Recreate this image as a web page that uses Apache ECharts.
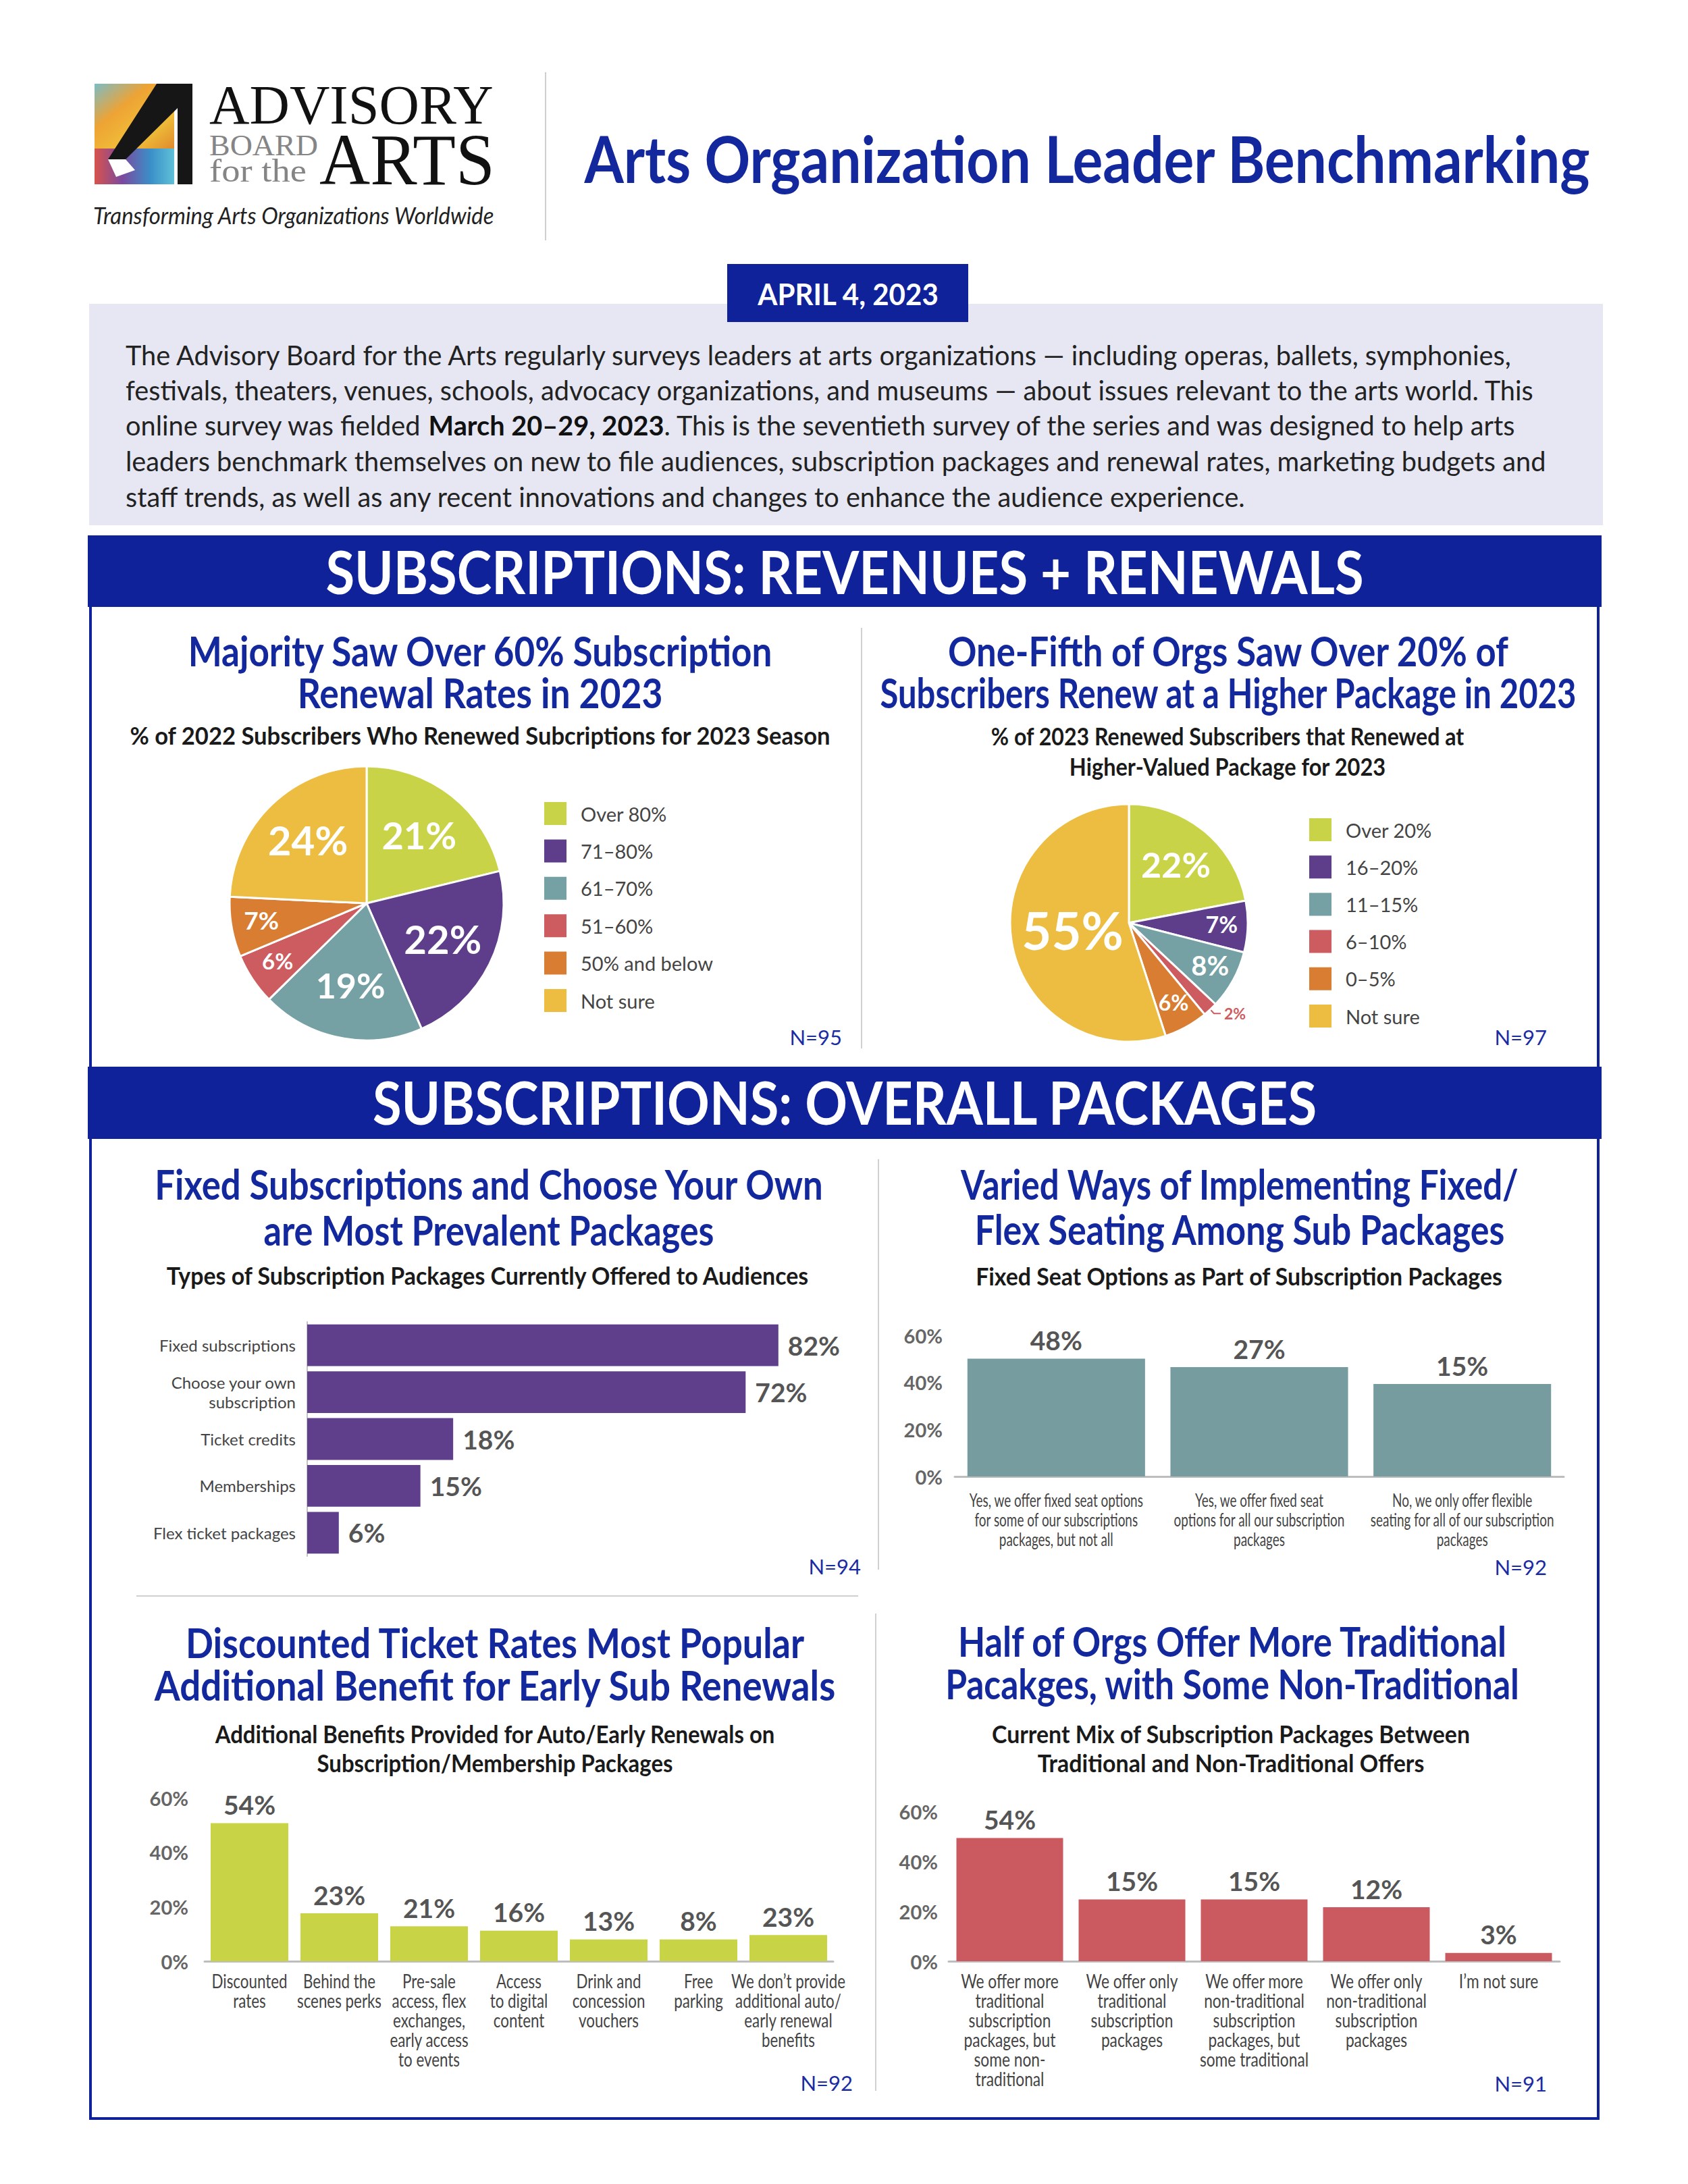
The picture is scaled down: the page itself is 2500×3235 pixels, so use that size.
<!DOCTYPE html>
<html><head><meta charset="utf-8">
<script src="https://cdn.jsdelivr.net/npm/echarts@6/dist/echarts.min.js"></script>
<style>html,body{margin:0;padding:0;background:#fff;}#c{width:2500px;height:3235px;}</style>
</head><body><div id="c"></div>
<script>
// ================= DATA =================
const pageTitle = 'Arts Organization Leader Benchmarking';
const reportDate = 'APRIL 4, 2023';
const logoWords = ['ADVISORY', 'BOARD', 'for the', 'ARTS'];
const logoTagline = 'Transforming Arts Organizations Worldwide';
const introLines = [
  'The Advisory Board for the Arts regularly surveys leaders at arts organizations \u2014 including operas, ballets, symphonies,',
  'festivals, theaters, venues, schools, advocacy organizations, and museums \u2014 about issues relevant to the arts world. This',
  'online survey was fielded {b|March 20\u201329, 2023}. This is the seventieth survey of the series and was designed to help arts',
  'leaders benchmark themselves on new to file audiences, subscription packages and renewal rates, marketing budgets and',
  'staff trends, as well as any recent innovations and changes to enhance the audience experience.'
];
const section1Title = 'SUBSCRIPTIONS: REVENUES + RENEWALS';
const section2Title = 'SUBSCRIPTIONS: OVERALL PACKAGES';

const renewalTitle = ['Majority Saw Over 60% Subscription', 'Renewal Rates in 2023'];
const renewalSubtitle = ['% of 2022 Subscribers Who Renewed Subcriptions for 2023 Season'];
const renewalCategories = ['Over 80%', '71\u201380%', '61\u201370%', '51\u201360%', '50% and below', 'Not sure'];
const renewalValues = [21, 22, 19, 6, 7, 24];
const renewalN = 'N=95';

const higherTitle = ['One-Fifth of Orgs Saw Over 20% of', 'Subscribers Renew at a Higher Package in 2023'];
const higherSubtitle = ['% of 2023 Renewed Subscribers that Renewed at', 'Higher-Valued Package for 2023'];
const higherCategories = ['Over 20%', '16\u201320%', '11\u201315%', '6\u201310%', '0\u20135%', 'Not sure'];
const higherValues = [22, 7, 8, 2, 6, 55];
const higherN = 'N=97';

const packageTitle = ['Fixed Subscriptions and Choose Your Own', 'are Most Prevalent Packages'];
const packageSubtitle = ['Types of Subscription Packages Currently Offered to Audiences'];
const packageCategories = ['Fixed subscriptions', 'Choose your own\nsubscription', 'Ticket credits', 'Memberships', 'Flex ticket packages'];
const packageLabels = [82, 72, 18, 15, 6];          // printed values
const packageBars = [82, 76.3, 25.4, 19.7, 5.5];     // bar lengths as drawn in the picture
const packageN = 'N=94';

const seatTitle = ['Varied Ways of Implementing Fixed/', 'Flex Seating Among Sub Packages'];
const seatSubtitle = ['Fixed Seat Options as Part of Subscription Packages'];
const seatCategories = [
  'Yes, we offer fixed seat options\nfor some of our subscriptions\npackages, but not all',
  'Yes, we offer fixed seat\noptions for all our subscription\npackages',
  'No, we only offer flexible\nseating for all of our subscription\npackages'
];
const seatLabels = [48, 27, 15];
const seatBars = [50.1, 46.5, 39.3];
const seatN = 'N=92';

const benefitTitle = ['Discounted Ticket Rates Most Popular', 'Additional Benefit for Early Sub Renewals'];
const benefitSubtitle = ['Additional Benefits Provided for Auto/Early Renewals on', 'Subscription/Membership Packages'];
const benefitCategories = [
  'Discounted\nrates', 'Behind the\nscenes perks', 'Pre-sale\naccess, flex\nexchanges,\nearly access\nto events',
  'Access\nto digital\ncontent', 'Drink and\nconcession\nvouchers', 'Free\nparking',
  'We don\u2019t provide\nadditional auto/\nearly renewal\nbenefits'
];
const benefitLabels = [54, 23, 21, 16, 13, 8, 23];
const benefitBars = [50.7, 17.6, 12.8, 11.2, 8.0, 8.0, 9.6];
const benefitN = 'N=92';

const mixTitle = ['Half of Orgs Offer More Traditional', 'Pacakges, with Some Non-Traditional'];
const mixSubtitle = ['Current Mix of Subscription Packages Between', 'Traditional and Non-Traditional Offers'];
const mixCategories = [
  'We offer more\ntraditional\nsubscription\npackages, but\nsome non-\ntraditional',
  'We offer only\ntraditional\nsubscription\npackages',
  'We offer more\nnon-traditional\nsubscription\npackages, but\nsome traditional',
  'We offer only\nnon-traditional\nsubscription\npackages',
  'I\u2019m not sure'
];
const mixLabels = [54, 15, 15, 12, 3];
const mixBars = [49.3, 24.7, 24.7, 21.6, 3.3];
const mixN = 'N=91';

const pctTicks = [0, 20, 40, 60];

// ================= STYLE =================
const FONT = 'Lato, "Noto Sans", sans-serif';
const SERIF = '"Liberation Serif", "DejaVu Serif", serif';
const NAVY = '#0f2299';
const TBLUE = '#14289e';
const pieColors = ['#c9d347', '#5e3e8b', '#75a1a5', '#cd5c60', '#d97d32', '#ecbd40'];
const renewalLabelSizes = [56, 58, 52, 33, 37, 60];
const higherLabelSizes = [52, 34, 40, 23, 32, 76];

const mctx = document.createElement('canvas').getContext('2d');
function mw(text, size, weight, family, italic) {
  mctx.font = (italic ? 'italic ' : '') + weight + ' ' + size + 'px ' + family;
  return mctx.measureText(text).width;
}
function txt(text, x, y, size, o) {
  o = o || {};
  const weight = o.weight || 'normal', family = o.family || FONT;
  let sx = o.sx || 1;
  if (o.w) sx = o.w / mw(text, size, weight, family, o.italic);
  const align = o.align || 'center';
  const st = {
    text: text, fontSize: size, fontWeight: weight, fontFamily: family,
    fontStyle: o.italic ? 'italic' : 'normal', fill: o.color || '#222',
    align: align, verticalAlign: o.va || 'middle', textAlign: align, textVerticalAlign: o.va || 'middle'
  };
  if (o.lineHeight) st.lineHeight = o.lineHeight;
  if (o.rich) st.rich = o.rich;
  return { type: 'text', x: x, y: y, scaleX: sx, z: 20, silent: true, style: st };
}
function rect(x, y, w, h, fill, z) {
  return { type: 'rect', shape: { x: x, y: y, width: w, height: h }, style: { fill: fill }, z: z || 2, silent: true };
}
function line(x1, y1, x2, y2, color, w) {
  return { type: 'line', shape: { x1: x1, y1: y1, x2: x2, y2: y2 }, style: { stroke: color, lineWidth: w }, z: 3, silent: true };
}

const G = [];
// ---- header / logo ----
G.push({ type: 'rect', shape: { x: 140, y: 124, width: 118, height: 96 }, z: 2, silent: true,
  style: { fill: new echarts.graphic.LinearGradient(0, 0, 1, 1, [
    { offset: 0, color: '#7cbcc6' }, { offset: 0.35, color: '#eea334' }, { offset: 0.7, color: '#f0c23a' }, { offset: 1, color: '#e08a2c' }]) } });
G.push({ type: 'rect', shape: { x: 140, y: 220, width: 118, height: 53 }, z: 2, silent: true,
  style: { fill: new echarts.graphic.LinearGradient(0, 0, 1, 0, [
    { offset: 0, color: '#d8524a' }, { offset: 0.35, color: '#7b4aa0' }, { offset: 0.7, color: '#3a8fc8' }, { offset: 1, color: '#5fc0d8' }]) } });
G.push({ type: 'polygon', shape: { points: [[232, 124], [285, 124], [285, 273], [263, 273], [263, 160], [186, 236], [160, 236]] }, style: { fill: '#161616' }, z: 3, silent: true });
G.push({ type: 'polygon', shape: { points: [[160, 236], [186, 236], [200, 252], [172, 262]] }, style: { fill: '#ffffff' }, z: 4, silent: true });
G.push(txt(logoWords[0], 310, 156, 82, { family: SERIF, align: 'left', w: 421, color: '#111' }));
G.push(txt(logoWords[1], 310, 215, 44, { family: SERIF, align: 'left', w: 161, color: '#858585' }));
G.push(txt(logoWords[2], 310, 253, 48, { family: SERIF, align: 'left', w: 144, color: '#858585' }));
G.push(txt(logoWords[3], 473, 236, 108, { family: SERIF, align: 'left', w: 260, color: '#111' }));
G.push(txt(logoTagline, 138, 319, 34, { italic: true, align: 'left', w: 595, color: '#222' }));
G.push(line(808, 107, 808, 356, '#cfcfcf', 2));
G.push(txt(pageTitle, 1610, 234, 95, { weight: 'bold', color: TBLUE, w: 1491 }));

// ---- date + intro ----
G.push(rect(132, 450, 2242, 328, '#e6e7f3', 1));
G.push(rect(1077, 391, 357, 86, NAVY, 4));
G.push(txt(reportDate, 1256, 435, 44, { weight: 'bold', color: '#ffffff', w: 269 }));
const introScale = 2058 / mw(introLines[0], 41, 'normal', FONT);
const introY = [525, 577, 629, 682, 735];
introLines.forEach((t, i) => {
  G.push(txt(t, 186, introY[i], 41, { align: 'left', sx: introScale, color: '#222',
    rich: { b: { fontWeight: 'bold', fontSize: 41, fontFamily: FONT, fill: '#111', color: '#111' } } }));
});

// ---- frame + banners ----
G.push({ type: 'rect', shape: { x: 134, y: 795, width: 2233, height: 2343 }, style: { fill: 'none', stroke: NAVY, lineWidth: 4 }, z: 1, silent: true });
G.push(rect(130, 793, 2242, 106, NAVY, 4));
G.push(txt(section1Title, 1251, 846, 88, { weight: 'bold', color: '#ffffff', w: 1537 }));
G.push(rect(130, 1580, 2242, 107, NAVY, 4));
G.push(txt(section2Title, 1251, 1632, 88, { weight: 'bold', color: '#ffffff', w: 1401 }));

// dividers
G.push(line(1276, 930, 1276, 1553, '#d0d0d0', 2));
G.push(line(1301, 1717, 1301, 2325, '#d0d0d0', 2));
G.push(line(1297, 2390, 1297, 3097, '#d0d0d0', 2));
G.push(line(202, 2364, 1271, 2364, '#d0d0d0', 2));

// ---- titles ----
function titleBlock(lines, ys, cx, ws, size, opts) {
  lines.forEach((t, i) => G.push(txt(t, cx, ys[i], size, Object.assign({ w: ws[i] }, opts))));
}
const H = { weight: 'bold', color: TBLUE };
const S = { weight: 'bold', color: '#1a1a1a' };
titleBlock(renewalTitle, [963, 1025], 711, [868, 541], 62, H);
titleBlock(renewalSubtitle, [1089], 711, [1039], 36, S);
titleBlock(higherTitle, [963, 1025], 1819, [833, 1033], 62, H);
titleBlock(higherSubtitle, [1090, 1135], 1818, [701, 469], 36, S);
titleBlock(packageTitle, [1753, 1821], 724, [993, 667], 62, H);
titleBlock(packageSubtitle, [1889], 722, [953], 36, S);
titleBlock(seatTitle, [1753, 1820], 1836, [827, 787], 62, H);
titleBlock(seatSubtitle, [1890], 1835, [781], 36, S);
titleBlock(benefitTitle, [2432, 2495], 733, [918, 1011], 62, H);
titleBlock(benefitSubtitle, [2568, 2611], 733, [832, 527], 36, S);
titleBlock(mixTitle, [2430, 2493], 1825, [817, 851], 62, H);
titleBlock(mixSubtitle, [2568, 2611], 1823, [709, 573], 36, S);

// N labels
const NS = { align: 'right', color: '#1b2ca3' };
G.push(txt(renewalN, 1247, 1536, 31, NS));
G.push(txt(higherN, 2291, 1536, 31, NS));
G.push(txt(packageN, 1275, 2320, 31, NS));
G.push(txt(seatN, 2291, 2321, 31, NS));
G.push(txt(benefitN, 1263, 3085, 31, NS));
G.push(txt(mixN, 2291, 3086, 31, NS));

// ================= CHARTS =================
function pieLabelLayout(values, cx, cy, r, skip) {
  const total = values.reduce((a, b) => a + b, 0);
  return function (p) {
    const i = p.dataIndex;
    if (skip.indexOf(i) >= 0) return {};
    let before = 0;
    for (let k = 0; k < i; k++) before += values[k];
    const share = values[i] / total;
    const a = (before + values[i] / 2) / total * Math.PI * 2;
    const f = share >= 0.4 ? 0.48 : share >= 0.15 ? 0.62 : 0.78;
    return { x: cx + f * r * Math.sin(a), y: cy - f * r * Math.cos(a) - 3, align: 'center', verticalAlign: 'middle' };
  };
}
const P1 = { cx: 543, cy: 1338, r: 203 };
const P2 = { cx: 1672, cy: 1367, r: 176 };

function pieSeries(cats, vals, sizes, P, outside) {
  return {
    type: 'pie', center: [P.cx, P.cy], radius: [0, P.r], startAngle: 90, clockwise: true,
    silent: true, avoidLabelOverlap: false,
    itemStyle: { borderColor: '#ffffff', borderWidth: 3 },
    label: { show: true, position: 'inside', formatter: p => p.value + '%', color: '#ffffff', fontWeight: 'bold', fontFamily: FONT },
    labelLine: { show: false },
    labelLayout: pieLabelLayout(vals, P.cx, P.cy, P.r, outside),
    data: cats.map((n, i) => {
      const d = { name: n, value: vals[i], itemStyle: { color: pieColors[i] }, label: { fontSize: sizes[i] } };
      if (outside.indexOf(i) >= 0) {
        d.label = { position: 'outside', fontSize: sizes[i], color: pieColors[i], fontWeight: 'bold' };
        d.labelLine = { show: true, length: 8, length2: 10, lineStyle: { color: pieColors[i], width: 2 } };
      }
      return d;
    })
  };
}

const valueLabel = (arr, pos, dist) => ({
  show: true, position: pos, distance: dist, formatter: p => arr[p.dataIndex] + '%',
  fontSize: 39, fontWeight: 'bold', color: '#555', fontFamily: FONT
});
const pctAxis = (gi, margin) => ({
  type: 'value', gridIndex: gi, min: pctTicks[0], max: pctTicks[pctTicks.length - 1], interval: pctTicks[1] - pctTicks[0],
  splitLine: { show: false }, axisLine: { show: false }, axisTick: { show: false },
  axisLabel: { formatter: '{value}%', fontSize: 29, fontWeight: 'bold', color: '#666', margin: margin, fontFamily: FONT }
});
const catAxis = (gi, cats) => ({
  type: 'category', gridIndex: gi, data: cats,
  axisLine: { show: true, lineStyle: { color: '#bdbdbd', width: 3 } }, axisTick: { show: false },
  axisLabel: { show: false, interval: 0 }
});
const legendText = { fontSize: 29, color: '#444', padding: [0, 0, 0, 15], fontFamily: FONT, lineHeight: 36 };

const option = {
  animation: false,
  textStyle: { fontFamily: FONT },
  legend: [
    { data: renewalCategories, orient: 'vertical', left: 799, top: 1181, itemWidth: 35, itemHeight: 36, itemGap: 17.4,
      icon: 'rect', selectedMode: false, textStyle: legendText },
    { data: higherCategories, orient: 'vertical', left: 1932, top: 1205, itemWidth: 35, itemHeight: 36, itemGap: 17.2,
      icon: 'rect', selectedMode: false, textStyle: legendText }
  ],
  grid: [
    { left: 455, top: 1958, width: 851, height: 347, outerBoundsMode: 'none' },
    { left: 1414, top: 1978, width: 902, height: 209, outerBoundsMode: 'none' },
    { left: 303, top: 2663, width: 931, height: 242, outerBoundsMode: 'none' },
    { left: 1405, top: 2683, width: 905, height: 222, outerBoundsMode: 'none' }
  ],
  xAxis: [
    { type: 'value', gridIndex: 0, min: 0, max: 100, show: false },
    catAxis(1, seatCategories),
    catAxis(2, benefitCategories),
    catAxis(3, mixCategories)
  ],
  yAxis: [
    { type: 'category', gridIndex: 0, data: packageCategories, inverse: true,
      axisLine: { show: true, lineStyle: { color: '#c4c4c4', width: 2 } }, axisTick: { show: false },
      axisLabel: { fontSize: 24, color: '#444', margin: 17, lineHeight: 29, fontFamily: FONT } },
    pctAxis(1, 18),
    pctAxis(2, 24),
    pctAxis(3, 16)
  ],
  series: [
    pieSeries(renewalCategories, renewalValues, renewalLabelSizes, P1, []),
    pieSeries(higherCategories, higherValues, higherLabelSizes, P2, [3]),
    { type: 'bar', xAxisIndex: 0, yAxisIndex: 0, data: packageBars, barCategoryGap: '11%', silent: true,
      itemStyle: { color: '#5f3f8b' }, label: valueLabel(packageLabels, 'right', 14) },
    { type: 'bar', xAxisIndex: 1, yAxisIndex: 1, data: seatBars, barCategoryGap: '12.5%', silent: true,
      itemStyle: { color: '#779ca0' }, label: valueLabel(seatLabels, 'top', 8) },
    { type: 'bar', xAxisIndex: 2, yAxisIndex: 2, data: benefitBars, barCategoryGap: '13.5%', silent: true,
      itemStyle: { color: '#c8d346' }, label: valueLabel(benefitLabels, 'top', 8) },
    { type: 'bar', xAxisIndex: 3, yAxisIndex: 3, data: mixBars, barCategoryGap: '12.7%', silent: true,
      itemStyle: { color: '#cb5a60' }, label: valueLabel(mixLabels, 'top', 8) }
  ]
};

const chart = echarts.init(document.getElementById('c'), null, { renderer: 'svg', width: 2500, height: 3235 });
chart.setOption(option);

// Category labels under the vertical bars, placed by the library's own axis scales
const CAT_LH = 29;
const catFits = [
  [1, seatCategories, 35, 26, 258 / mw('Yes, we offer fixed seat options', 26, 'normal', FONT)],
  [2, benefitCategories, 29, 28, 112 / mw('Discounted', 28, 'normal', FONT)],
  [3, mixCategories, 29, 28, 145 / mw('We offer more', 28, 'normal', FONT)]
];
const L = [];
catFits.forEach(([ax, cats, off, size, sx]) => {
  const y0 = chart.convertToPixel({ yAxisIndex: ax }, 0);
  cats.forEach((c, i) => {
    const x = chart.convertToPixel({ xAxisIndex: ax }, i);
    L.push(txt(c, x, y0 + off - CAT_LH / 2, size, { va: 'top', lineHeight: CAT_LH, color: '#444', sx: sx }));
  });
});
chart.setOption({ graphic: G.concat(L) });
</script></body></html>
